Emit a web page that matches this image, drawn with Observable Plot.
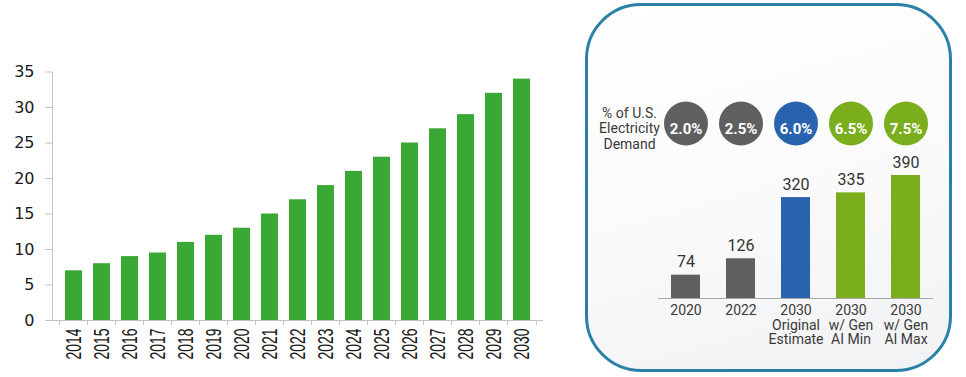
<!DOCTYPE html>
<html><head><meta charset="utf-8">
<script src="https://cdn.jsdelivr.net/npm/d3@7"></script>
<script src="https://cdn.jsdelivr.net/npm/@observablehq/plot@0.6"></script>
<style>
body{margin:0;background:#fff;width:966px;height:377px;position:relative;overflow:hidden}
#left{position:absolute;left:0;top:0}
#panel{position:absolute;left:585px;top:3px;width:361px;height:363px;border:3.5px solid #2b80a8;border-radius:56px;background:linear-gradient(165deg,#ffffff 0%,#fbfbfc 45%,#f1f2f3 100%);}
#right{position:absolute;left:590px;top:0}
</style></head><body>
<div id="left"></div><div id="panel"></div><div id="right"></div>
<script>
// Left chart data
const years = ["2014","2015","2016","2017","2018","2019","2020","2021","2022","2023","2024","2025","2026","2027","2028","2029","2030"];
const shares = [7,8,9,9.5,11,12,13,15,17,19,21,23,25,27,29,32,34];
const yTicks = [0,5,10,15,20,25,30,35];

// Right chart data
const categories = ["2020","2022","2030\nOriginal\nEstimate","2030\nw/ Gen\nAI Min","2030\nw/ Gen\nAI Max"];
const demand = [74,126,320,335,390];
const pctLabels = ["2.0%","2.5%","6.0%","6.5%","7.5%"];
const barColors = ["#5e5f61","#5e5f61","#2a63ad","#7aae1c","#7aae1c"];
const rowLabel = "% of U.S.\nElectricity\nDemand";

const leftData = years.map((y,i)=>({year:y, value:shares[i]}));
const W1 = 560, mL1 = 52, mR1 = 17;
const step1 = (W1 - mL1 - mR1) / years.length;

const left = Plot.plot({
  width: W1, height: 377,
  marginLeft: mL1, marginRight: mR1, marginTop: 71.5, marginBottom: 57,
  style: {background: "transparent", color: "#1a1a1a"},
  x: {domain: years, paddingInner: 0.377, paddingOuter: 0.1885, label: null},
  y: {domain: [0, 35], label: null},
  marks: [
    Plot.barY(leftData, {x: "year", y: "value", fill: "#3aa835"}),
    Plot.frame({anchor: "left", stroke: "#c4c4c4"}),
    Plot.ruleY([0], {stroke: "#c4c4c4"}),
    Plot.axisY({ticks: yTicks, tickSize: 7, tickPadding: 11, stroke: "#c4c4c4", fontSize: 16, fontFamily: "DejaVu Sans", fill: "#1a1a1a", label: null}),
    Plot.axisX({ticks: years, tickSize: 5, text: null, dx: -step1/2, stroke: "#c4c4c4", label: null}),
    Plot.axisX({ticks: [years[years.length-1]], tickSize: 5, text: null, dx: step1/2, stroke: "#c4c4c4", label: null}),
    Plot.axisX({ticks: years, tickSize: 0, tickPadding: 8, tickRotate: -90, fontSize: 22, fontFamily: "Liberation Sans, Arial, sans-serif", fill: "#1a1a1a", label: null})
  ]
});
// condense the rotated year labels like the narrow font of the original
d3.select(left).selectAll("text")
  .filter(function() { return years.includes(this.textContent); })
  .attr("textLength", 31).attr("lengthAdjust", "spacingAndGlyphs");
document.getElementById("left").appendChild(left);

const rightData = categories.map((c,i)=>({cat:c, value:demand[i], pct:pctLabels[i], color:barColors[i]}));
const font2 = "Roboto, Noto Sans, sans-serif";
const right = Plot.plot({
  width: 360, height: 377,
  marginLeft: 68, marginRight: 17, marginTop: 175, marginBottom: 79,
  style: {background: "transparent", color: "#3a3a3a", fontFamily: font2},
  x: {domain: categories, paddingInner: 0.467, paddingOuter: 0.2335, label: null},
  y: {domain: [0, 390], axis: null, label: null},
  marks: [
    Plot.barY(rightData, {x: "cat", y: "value", fill: "color"}),
    Plot.ruleY([0], {stroke: "#a8a8a8", strokeWidth: 1.2}),
    Plot.text(rightData, {x: "cat", y: "value", text: d => String(d.value), dy: -13, fontSize: 16, fill: "#333", fontFamily: font2}),
    Plot.dot(rightData, {x: "cat", frameAnchor: "top", dy: -52, r: 22, fill: "color", stroke: null}),
    Plot.text(rightData, {x: "cat", frameAnchor: "top", dy: -52, text: "pct", fill: "white", fontWeight: "bold", fontSize: 15, fontFamily: font2}),
    Plot.text([rowLabel], {frameAnchor: "top-left", dx: -29, dy: -47, text: d => d, textAnchor: "middle", lineAnchor: "middle", lineHeight: 1.1, fontSize: 14, fill: "#3a3a3a", fontFamily: font2}),
    Plot.axisX({tickSize: 0, tickPadding: 6, fontSize: 14, lineHeight: 1.05, fill: "#3a3a3a", fontFamily: font2, label: null})
  ]
});
document.getElementById("right").appendChild(right);
</script>
</body></html>
